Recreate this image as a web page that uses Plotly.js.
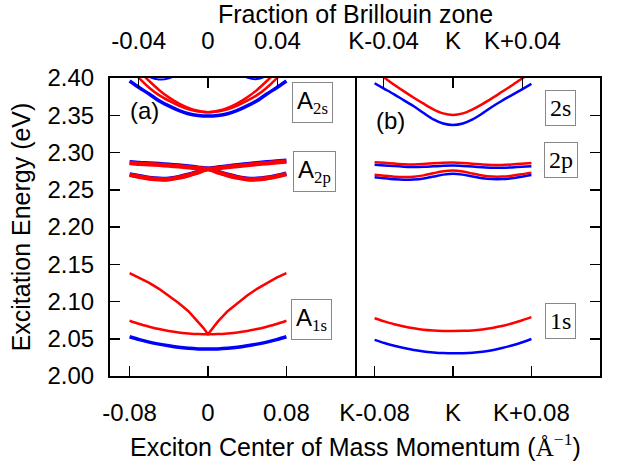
<!DOCTYPE html>
<html>
<head>
<meta charset="utf-8">
<script src="https://cdn.plot.ly/plotly-3.0.1.min.js"></script>
<style>html,body{margin:0;padding:0;background:#fff;}#chart{width:623px;height:474px;}</style>
</head>
<body>
<div id="chart"></div>
<script>
// momentum grid (Å^-1), relative to Gamma (panel a) or K (panel b)
const q = [-0.08,-0.07,-0.06,-0.05,-0.04,-0.03,-0.02,-0.01,0,0.01,0.02,0.03,0.04,0.05,0.06,0.07,0.08];
const qCusp = [-0.08,-0.07,-0.06,-0.05,-0.04,-0.03,-0.02,-0.01,-0.005,0,0.005,0.01,0.02,0.03,0.04,0.05,0.06,0.07,0.08];

// Panel (a) : A exciton near Gamma
const a1sBlue   = [2.0527,2.0488,2.0455,2.0428,2.0405,2.0385,2.0372,2.0364,2.0362,2.0364,2.0372,2.0385,2.0405,2.0428,2.0455,2.0488,2.0527];
const a1sRedLow = [2.0742,2.0698,2.0662,2.0630,2.0605,2.0585,2.0572,2.0563,2.0560,2.0563,2.0572,2.0585,2.0605,2.0630,2.0662,2.0698,2.0742];
const a1sRedCusp= [2.138,2.132,2.125,2.117,2.108,2.098,2.087,2.073,2.065,2.056,2.065,2.073,2.087,2.098,2.108,2.117,2.125,2.132,2.138];
const a2pRedUp  = [2.2860,2.2850,2.2843,2.2835,2.2825,2.2815,2.2803,2.2790,2.2778,2.2790,2.2805,2.2820,2.2833,2.2845,2.2857,2.2868,2.2880];
const a2pBlueUp = [2.2870,2.2860,2.2853,2.2845,2.2835,2.2824,2.2811,2.2797,2.2783,2.2798,2.2814,2.2830,2.2843,2.2856,2.2868,2.2879,2.2891];
const a2pRedLow = [2.2700,2.2675,2.2652,2.2640,2.2642,2.2663,2.2695,2.2735,2.2778,2.2735,2.2695,2.2663,2.2642,2.2640,2.2655,2.2680,2.2710];
const a2pBlueLow= [2.2706,2.2681,2.2658,2.2646,2.2648,2.2669,2.2701,2.2741,2.2783,2.2741,2.2701,2.2669,2.2648,2.2646,2.2661,2.2686,2.2716];
const a2sBlue   = [2.396,2.387,2.3785,2.3695,2.3625,2.3565,2.352,2.3497,2.349,2.3497,2.352,2.3565,2.3625,2.3695,2.3785,2.387,2.396];
const a2sRedA   = [2.414,2.3995,2.387,2.377,2.3695,2.363,2.358,2.355,2.354,2.355,2.358,2.363,2.3695,2.377,2.387,2.3995,2.414];
const a2sRedB   = [2.424,2.409,2.396,2.384,2.374,2.366,2.360,2.356,2.354,2.356,2.360,2.366,2.374,2.384,2.396,2.409,2.424];
const a3Blue    = [2.422,2.410,2.4015,2.398,2.3995,2.406,2.416,2.428,2.440,2.428,2.417,2.4075,2.4005,2.3985,2.403,2.412,2.425];

// Panel (b) : exciton near K
const b1sRed    = [2.0775,2.0733,2.0695,2.0665,2.0640,2.0620,2.0610,2.0605,2.0604,2.0606,2.0612,2.0625,2.0645,2.0670,2.0705,2.0745,2.0790];
const b1sBlue   = [2.0485,2.0443,2.0405,2.0375,2.0350,2.0330,2.0317,2.0308,2.0305,2.0307,2.0313,2.0327,2.0347,2.0375,2.0410,2.0450,2.0497];
const b2pRedUp  = [2.2870,2.2862,2.2852,2.2843,2.2840,2.2845,2.2855,2.2863,2.2866,2.2860,2.2850,2.2838,2.2832,2.2833,2.2840,2.2850,2.2860];
const b2pBlueUp = [2.2835,2.2827,2.2818,2.2810,2.2805,2.2808,2.2815,2.2822,2.2825,2.2820,2.2812,2.2802,2.2795,2.2795,2.2800,2.2808,2.2817];
const b2pRedLow = [2.2702,2.2688,2.2676,2.2670,2.2675,2.2693,2.2722,2.2748,2.2758,2.2745,2.2718,2.2692,2.2678,2.2677,2.2688,2.2707,2.2730];
const b2pBlueLow= [2.2668,2.2653,2.2640,2.2633,2.2637,2.2652,2.2677,2.2703,2.2715,2.2703,2.2678,2.2655,2.2643,2.2643,2.2655,2.2675,2.2698];
const b2sBlue   = [2.393,2.3855,2.378,2.370,2.362,2.353,2.3445,2.339,2.337,2.339,2.3445,2.3525,2.3615,2.3695,2.377,2.3845,2.392];
const b2sRed    = [2.410,2.4005,2.391,2.382,2.3735,2.3655,2.358,2.3525,2.3505,2.3525,2.358,2.365,2.373,2.3815,2.390,2.399,2.408];

// tick labels
const yTicks = [2.00,2.05,2.10,2.15,2.20,2.25,2.30,2.35,2.40];
const botTickVals = [-0.08,0,0.08];
const botTickA = ['-0.08','0','0.08'];
const botTickB = ['K-0.08','K','K+0.08'];
const topTickVals = [-0.0708,0,0.0708];
const topTickA = ['-0.04','0','0.04'];
const topTickB = ['K-0.04','K','K+0.04'];

const RED = '#ff0000', BLUE = '#0000ff';
function tr(x, y, color, width, xa, ya, shape) {
  return {x: x, y: y, type: 'scatter', mode: 'lines', xaxis: xa, yaxis: ya,
          line: {color: color, width: width, shape: shape || 'spline', smoothing: 0.8},
          hoverinfo: 'skip', showlegend: false};
}
function dummy(xa, ya) {
  return {x: topTickVals, y: [null, null, null], type: 'scatter', mode: 'lines', xaxis: xa, yaxis: ya,
          hoverinfo: 'skip', showlegend: false};
}

const data = [
  tr(q, a3Blue, BLUE, 2, 'x', 'y'),
  tr(q, a2sBlue, BLUE, 3.5, 'x', 'y'),
  tr(q, a2sRedA, RED, 2.5, 'x', 'y'),
  tr(q, a2sRedB, RED, 2.5, 'x', 'y'),
  tr(q, a2pBlueUp, BLUE, 4.5, 'x', 'y'),
  tr(q, a2pBlueLow, BLUE, 4.5, 'x', 'y'),
  tr(q, a2pRedUp, RED, 4.5, 'x', 'y'),
  tr(q, a2pRedLow, RED, 4.5, 'x', 'y'),
  tr(q, a1sBlue, BLUE, 3.5, 'x', 'y'),
  tr(q, a1sRedLow, RED, 2.5, 'x', 'y'),
  tr(qCusp, a1sRedCusp, RED, 2.5, 'x', 'y', 'linear'),

  tr(q, b2sBlue, BLUE, 2.5, 'x2', 'y2'),
  tr(q, b2sRed, RED, 2.5, 'x2', 'y2'),
  tr(q, b2pBlueUp, BLUE, 2.5, 'x2', 'y2'),
  tr(q, b2pBlueLow, BLUE, 2.5, 'x2', 'y2'),
  tr(q, b2pRedUp, RED, 2.5, 'x2', 'y2'),
  tr(q, b2pRedLow, RED, 2.5, 'x2', 'y2'),
  tr(q, b1sBlue, BLUE, 2.5, 'x2', 'y2'),
  tr(q, b1sRed, RED, 2.5, 'x2', 'y2'),
  dummy('x3', 'y'),
  dummy('x4', 'y2')
];

const FONT = 'Liberation Sans, Arial, sans-serif';
const SERIF = 'Liberation Serif';
const TF = 24;
const axBase = {range: [-0.10, 0.15], showgrid: false, zeroline: false, showline: true,
  linecolor: '#000', linewidth: 2, ticks: 'inside', ticklen: 10, tickwidth: 1.5, tickcolor: '#000',
  tickmode: 'array', tickfont: {family: FONT, size: TF, color: '#000'}, fixedrange: true};

function box(txt, x, y, xref, yref, fam, size) {
  return {text: txt, x: x, y: y, xref: xref, yref: yref, showarrow: false,
    font: {family: fam, size: size, color: '#000'}, bordercolor: '#888', borderwidth: 1,
    borderpad: 4, bgcolor: '#fff', xanchor: 'center', yanchor: 'middle'};
}

const layout = {
  width: 623, height: 474,
  margin: {l: 110, r: 23, t: 78, b: 98, pad: 0},
  paper_bgcolor: '#fff', plot_bgcolor: '#fff',
  font: {family: FONT, size: TF, color: '#000'},
  xaxis: Object.assign({}, axBase, {domain: [0, 0.5], anchor: 'y', tickvals: botTickVals, ticktext: botTickA, ticklabelstandoff: 14}),
  xaxis2: Object.assign({}, axBase, {domain: [0.5, 1], anchor: 'y2', tickvals: botTickVals, ticktext: botTickB, ticklabelstandoff: 14}),
  xaxis3: Object.assign({}, axBase, {overlaying: 'x', side: 'top', anchor: 'y', tickvals: topTickVals, ticktext: topTickA, ticklabelstandoff: 17}),
  xaxis4: Object.assign({}, axBase, {overlaying: 'x2', side: 'top', anchor: 'y2', tickvals: topTickVals, ticktext: topTickB, ticklabelstandoff: 17}),
  yaxis: {range: [2.00, 2.40], domain: [0, 1], anchor: 'x', showgrid: false, zeroline: false, showline: true, mirror: true,
    linecolor: '#000', linewidth: 2, ticks: 'inside', ticklen: 10, tickwidth: 1.5, tickcolor: '#000',
    tickmode: 'array', tickvals: yTicks, tickformat: '.2f', ticklabelstandoff: 9,
    tickfont: {family: FONT, size: TF, color: '#000'}, fixedrange: true,
    title: {text: 'Excitation Energy (eV)', font: {family: FONT, size: 25, color: '#000'}, standoff: 10}},
  yaxis2: {range: [2.00, 2.40], domain: [0, 1], anchor: 'x2', side: 'right', showgrid: false, zeroline: false, showline: true, mirror: false,
    linecolor: '#000', linewidth: 2, ticks: 'inside', ticklen: 10, tickwidth: 1.5, tickcolor: '#000',
    tickmode: 'array', tickvals: yTicks, showticklabels: false, fixedrange: true},
  annotations: [
    {text: 'Fraction of Brillouin zone', x: 0.5, y: 1.215, xref: 'paper', yref: 'paper', showarrow: false,
      xanchor: 'center', yanchor: 'middle', font: {family: FONT, size: 25, color: '#000'}},
    {text: "Exciton Center of Mass Momentum (<span style='font-family:Liberation Serif'>Å<sup>−1</sup></span>)", x: 0.5, y: -0.232, xref: 'paper', yref: 'paper', showarrow: false,
      xanchor: 'center', yanchor: 'middle', font: {family: FONT, size: 25, color: '#000'}},
    {text: '(a)', x: -0.0647, y: 2.356, xref: 'x', yref: 'y', showarrow: false, font: {family: FONT, size: 24, color: '#000'}},
    {text: '(b)', x: -0.064, y: 2.3435, xref: 'x2', yref: 'y2', showarrow: false, font: {family: FONT, size: 24, color: '#000'}},
    box("A<sub><span style='font-family:Liberation Serif'>2s</span></sub>", 0.107, 2.367, 'x', 'y', FONT, 24),
    box("A<sub><span style='font-family:Liberation Serif'>2p</span></sub>", 0.109, 2.2745, 'x', 'y', FONT, 24),
    box("A<sub><span style='font-family:Liberation Serif'>1s</span></sub>", 0.106, 2.0755, 'x', 'y', FONT, 24),
    box('2s', 0.110, 2.3597, 'x2', 'y2', SERIF, 24),
    box('2p', 0.110, 2.29, 'x2', 'y2', SERIF, 24),
    box('1s', 0.110, 2.0734, 'x2', 'y2', SERIF, 24)
  ]
};

Plotly.newPlot('chart', data, layout, {displayModeBar: false, staticPlot: true});
</script>
</body>
</html>
